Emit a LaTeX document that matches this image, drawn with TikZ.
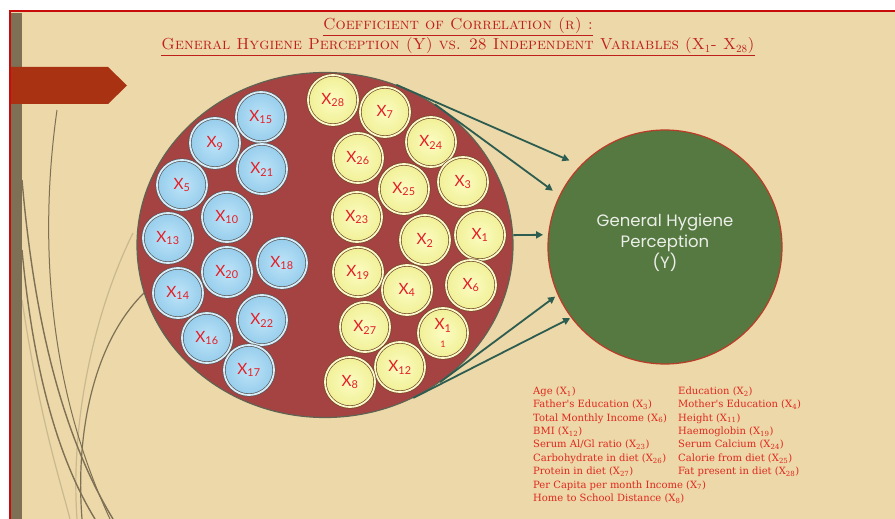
\documentclass[tikz,border=0pt]{standalone}
\usepackage{fontspec}
\usepackage{tikz}
\usetikzlibrary{arrows.meta, positioning, shapes.geometric, calc}
\newfontfamily\ballfont{Lato}
\newfontfamily\roundfont{Poppins}
\newfontfamily\legfont{DejaVu Serif}
\definecolor{paper}{RGB}{236,216,168}
\definecolor{framered}{RGB}{200,12,12}
\definecolor{stemolive}{RGB}{125,112,84}
\definecolor{bannerred}{RGB}{168,50,18}
\definecolor{poolred}{RGB}{165,66,66}
\definecolor{poolrim}{RGB}{95,100,82}
\definecolor{leafgreen}{RGB}{86,121,66}
\definecolor{leafrim}{RGB}{185,60,40}
\definecolor{arrowgreen}{RGB}{45,92,80}
\definecolor{labelred}{RGB}{228,30,38}
\definecolor{titlered}{RGB}{190,30,28}
\definecolor{legendred}{RGB}{225,40,30}
\definecolor{skyball}{RGB}{150,205,236}
\definecolor{skyinner}{RGB}{190,228,248}
\definecolor{skyrim}{RGB}{215,238,250}
\definecolor{lemonball}{RGB}{240,240,150}
\definecolor{lemoninner}{RGB}{252,252,195}
\definecolor{lemonrim}{RGB}{252,250,205}

\begin{document}
\begin{tikzpicture}[x=1pt, y=-1pt,
    ball/.style={circle, minimum size=50pt, inner sep=0pt, line width=0.7pt, double distance=1.8pt, font=\ballfont\fontsize{15.5}{15.5}\selectfont, text=labelred, align=center},
    blueball/.style={ball, draw=black!65, double=skyrim, inner color=skyinner, outer color=skyball},
    yellowball/.style={ball, draw=brown!60!black, double=lemonrim, inner color=lemoninner, outer color=lemonball},
    arrow/.style={-{Triangle[length=7pt, width=7pt]}, line width=1.8pt, draw=arrowgreen},
    stem/.style={draw=stemolive, line width=1.4pt},
    faint/.style={draw=stemolive, line width=1.2pt, opacity=0.3},
    heading/.style={text=titlered, inner sep=0pt, font=\fontsize{16}{18}\selectfont},
    legend/.style={anchor=north west, inner sep=0pt, align=left, text=legendred, font=\legfont\fontsize{10}{13.4}\selectfont}
  ]
  % page and frame
  \fill[white] (0,0) rectangle (895,519);
  \useasboundingbox (0,0) rectangle (895,519);
  \fill[paper] (10,11) rectangle (895,519);
  \draw[stem, line width=1pt] (57,110) .. controls (40,230) and (45,380) .. (110,519);
  \draw[stem] (22,180) .. controls (35,330) and (65,440) .. (113,519);
  \draw[stem] (22,250) .. controls (35,390) and (65,470) .. (95,519);
  \draw[stem, line width=1.2pt] (145,292) .. controls (95,340) and (75,430) .. (82,519);
  \draw[faint] (133,233) .. controls (95,310) and (70,420) .. (77,519);
  \draw[faint] (22,300) .. controls (40,420) and (60,480) .. (70,519);
  \fill[stemolive] (11,13) rectangle (22,519);
  \fill[bannerred] (11,67) -- (108,67) -- (127,85.5) -- (108,104) -- (11,104) -- cycle;
  \draw[framered, line width=2.5pt] (10,519) -- (10,11) -- (895,11);

  % title
  \node[heading] (head) at (458,27) {\underline{\textsc{Coefficient of Correlation (r) :}}};
  \node[heading] (subhead) at (458,47) {\underline{\textsc{General Hygiene Perception (Y) vs. 28 Independent Variables (X$_1$- X$_{28}$)}}};

  % the two circles
  \node[ellipse, minimum width=376pt, minimum height=345pt, fill=poolred, draw=poolrim, line width=1.2pt] (pool) at (325,245) {};
  \node[circle, minimum size=234pt, fill=leafgreen, draw=leafrim, line width=1.2pt, align=center, text=white!88!leafgreen, text depth=12pt, font=\roundfont\fontsize{16.5}{21}\selectfont] (ghp) at (665,247) {General Hygiene\\Perception\\(Y)};

  \draw[arrow, shorten >=12pt] (pool.66) -- (ghp.136);
  \draw[arrow, shorten >=8pt] (pool.52) -- (ghp.154);
  \draw[arrow, shorten >=5pt] (pool.3) -- (ghp.174);
  \draw[arrow, shorten >=3pt] (pool.-50) -- (ghp.204);
  \draw[arrow, shorten >=1pt] (pool.-60) -- (ghp.217);

  % blue balls
  \node[blueball] (x15) at (261,117) {X\textsubscript{15}};
  \node[blueball] (x9) at (215,143) {X\textsubscript{9}};
  \node[blueball] (x21) at (262,169) {X\textsubscript{21}};
  \node[blueball] (x5) at (182,185) {X\textsubscript{5}};
  \node[blueball] (x10) at (227,217) {X\textsubscript{10}};
  \node[blueball] (x13) at (168,238) {X\textsubscript{13}};
  \node[blueball] (x18) at (282,263) {X\textsubscript{18}};
  \node[blueball] (x20) at (227,272) {X\textsubscript{20}};
  \node[blueball] (x14) at (178,293) {X\textsubscript{14}};
  \node[blueball] (x22) at (262,320) {X\textsubscript{22}};
  \node[blueball] (x16) at (207,338) {X\textsubscript{16}};
  \node[blueball] (x17) at (249,370) {X\textsubscript{17}};

  % yellow balls
  \node[yellowball] (x28) at (333,100) {X\textsubscript{28}};
  \node[yellowball] (x7) at (385,112) {X\textsubscript{7}};
  \node[yellowball] (x24) at (431,142) {X\textsubscript{24}};
  \node[yellowball] (x26) at (358,158) {X\textsubscript{26}};
  \node[yellowball] (x3) at (463,182) {X\textsubscript{3}};
  \node[yellowball] (x25) at (404,189) {X\textsubscript{25}};
  \node[yellowball] (x23) at (357,217) {X\textsubscript{23}};
  \node[yellowball] (x2) at (425,240) {X\textsubscript{2}};
  \node[yellowball] (x1) at (480,235) {X\textsubscript{1}};
  \node[yellowball] (x19) at (358,272) {X\textsubscript{19}};
  \node[yellowball] (x4) at (407,290) {X\textsubscript{4}};
  \node[yellowball] (x6) at (471,285) {X\textsubscript{6}};
  \node[yellowball] (x27) at (365,327) {X\textsubscript{27}};
  \node[yellowball] (x11) at (443,333) {X\textsubscript{1}\\[2pt]{\fontsize{9}{9}\selectfont 1}};
  \node[yellowball] (x12) at (400,367) {X\textsubscript{12}};
  \node[yellowball] (x8) at (350,382) {X\textsubscript{8}};

  % key to the variables
  \node[legend] (legleft) at (533,386.5) {Age (X\textsubscript{1})\\
    Father's Education (X\textsubscript{3})\\
    Total Monthly Income (X\textsubscript{6})\\
    BMI (X\textsubscript{12})\\
    Serum Al/Gl ratio (X\textsubscript{23})\\
    Carbohydrate in diet (X\textsubscript{26})\\
    Protein in diet (X\textsubscript{27})\\
    Per Capita per month Income (X\textsubscript{7})\\
    Home to School Distance (X\textsubscript{8})};
  \node[legend] (legright) at (678,386.5) {Education (X\textsubscript{2})\\
    Mother's Education (X\textsubscript{4})\\
    Height (X\textsubscript{11})\\
    Haemoglobin (X\textsubscript{19})\\
    Serum Calcium (X\textsubscript{24})\\
    Calorie from diet (X\textsubscript{25})\\
    Fat present in diet (X\textsubscript{28})};
\end{tikzpicture}
\end{document}
